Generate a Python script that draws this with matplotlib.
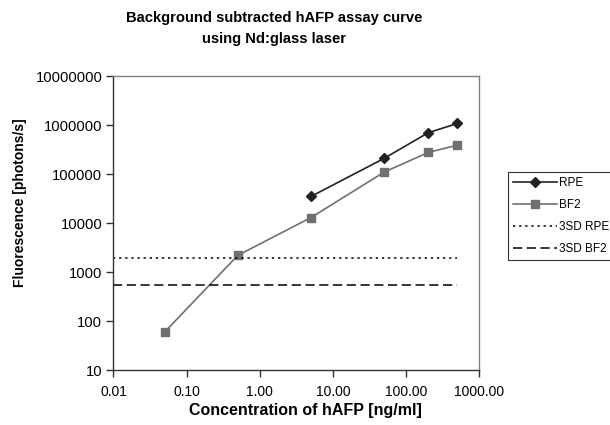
import matplotlib
matplotlib.use("Agg")
import matplotlib.pyplot as plt
from matplotlib.ticker import FixedLocator, FixedFormatter, NullLocator

plt.rcParams['font.family'] = ['Liberation Sans', 'DejaVu Sans']

rpe_x = [5, 50, 200, 500]
rpe_y = [35000, 210000, 700000, 1080000]
bf2_x = [0.05, 0.5, 5, 50, 200, 500]
bf2_y = [60, 2200, 13000, 110000, 277000, 390000]
sd_x = [0.01, 500]
sd_rpe = 1950
sd_bf2 = 535

x_ticks = [0.01, 0.1, 1, 10, 100, 1000]
x_labels = ["0.01", "0.10", "1.00", "10.00", "100.00", "1000.00"]
y_ticks = [10, 100, 1000, 10000, 100000, 1000000, 10000000]
y_labels = ["10", "100", "1000", "10000", "100000", "1000000", "10000000"]

fig = plt.figure(figsize=(6.1, 4.25), dpi=100)
ax = fig.add_axes([0.186, 0.129, 0.600, 0.692])

ax.plot(rpe_x, rpe_y, color='#222222', lw=1.2, marker='D', ms=5, label='RPE')
ax.plot(bf2_x, bf2_y, color='#707070', lw=1.2, marker='s', ms=5.5, label='BF2')
ax.plot(sd_x, [sd_rpe, sd_rpe], color='black', lw=1.1, ls=(0, (1.5, 2.5)), label='3SD RPE')
ax.plot(sd_x, [sd_bf2, sd_bf2], color='black', lw=1.1, ls=(0, (6, 3)), label='3SD BF2')

ax.set_xscale('log')
ax.set_yscale('log')
ax.set_xlim(0.01, 1000)
ax.set_ylim(10, 10000000)
ax.xaxis.set_major_locator(FixedLocator(x_ticks))
ax.xaxis.set_major_formatter(FixedFormatter(x_labels))
ax.xaxis.set_minor_locator(NullLocator())
ax.yaxis.set_major_locator(FixedLocator(y_ticks))
ax.yaxis.set_major_formatter(FixedFormatter(y_labels))
ax.yaxis.set_minor_locator(NullLocator())

for s in ['top', 'right']:
    ax.spines[s].set_color('#808080')
    ax.spines[s].set_linewidth(1.0)
for s in ['left', 'bottom']:
    ax.spines[s].set_color('#333333')
    ax.spines[s].set_linewidth(1.0)
ax.tick_params(axis='both', direction='out', length=5, width=1, color='#333333')
ax.tick_params(axis='x', pad=6, labelsize=10)
ax.tick_params(axis='y', pad=3, labelsize=10.6)

ax.set_xlabel('Concentration of hAFP [ng/ml]', fontsize=11.5, fontweight='bold')
ax.xaxis.set_label_coords(0.525, -0.113)
ax.set_ylabel('Fluorescence [photons/s]', fontsize=10, fontweight='bold')
ax.yaxis.set_label_coords(-0.236, 0.568)
fig.text(0.449, 0.933, 'Background subtracted hAFP assay curve\nusing Nd:glass laser',
         ha='center', va='center', fontsize=10.6, fontweight='bold', linespacing=1.6)

leg = fig.legend(loc='upper left', bbox_to_anchor=(0.833, 0.595), fontsize=8.5,
                 frameon=True, fancybox=False, edgecolor='black', borderpad=0.4,
                 handlelength=3.7, handletextpad=0.25, labelspacing=0.85,
                 borderaxespad=0)
leg.get_frame().set_linewidth(0.8)

fig.savefig('out.png', dpi=100)
